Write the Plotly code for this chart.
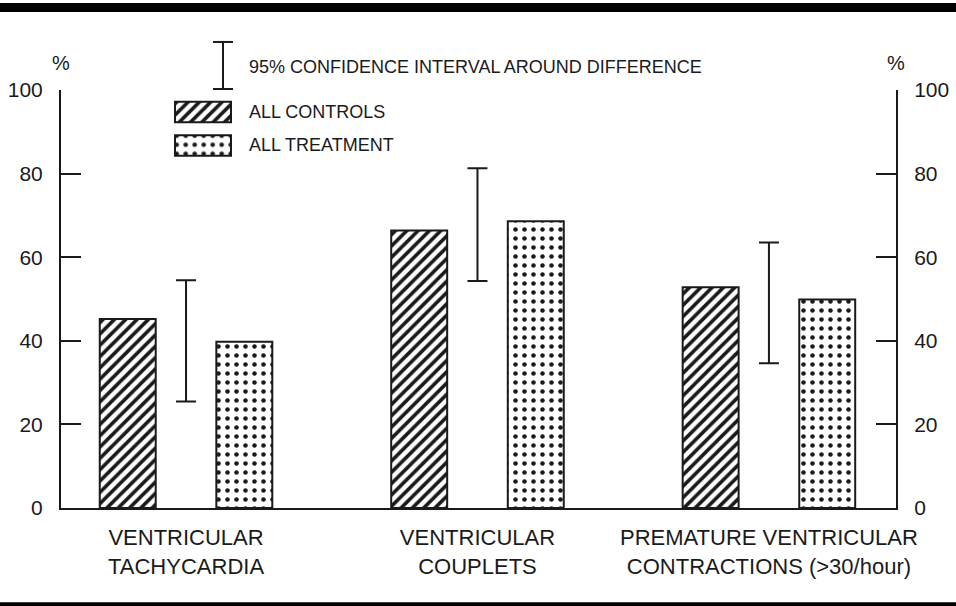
import plotly.graph_objects as go

categories = ["VENTRICULAR<br>TACHYCARDIA", "VENTRICULAR<br>COUPLETS",
              "PREMATURE VENTRICULAR<br>CONTRACTIONS (>30/hour)"]
group_pos = [0, 1, 2]
controls = [45.2, 66.4, 52.8]
treatment = [39.8, 68.6, 49.9]
ci_low = [25.5, 54.3, 34.6]
ci_high = [54.5, 81.3, 63.5]
y_ticks = [0, 20, 40, 60, 80, 100]

FONT = "Liberation Sans, Arial, Helvetica, sans-serif"
INK = "#1a1a1a"

W, H = 956, 606
L, R, T, B = 61, 60, 90, 98.3
pw, ph = W - L - R, H - T - B

def px_x(x):
    return (x - L) / pw

def px_y(y):
    return (H - B - y) / ph

ci_mid = [(a + b) / 2 for a, b in zip(ci_low, ci_high)]
ci_plus = [b - m for b, m in zip(ci_high, ci_mid)]
ci_minus = [m - a for a, m in zip(ci_low, ci_mid)]

hatch = dict(shape="/", size=8, solidity=0.45, fgcolor=INK, fgopacity=1,
             bgcolor="white", fillmode="overlay")
dots = dict(shape=".", size=9, solidity=0.2, fgcolor=INK, fgopacity=1,
            bgcolor="white", fillmode="overlay")

fig = go.Figure()
fig.add_trace(go.Bar(x=group_pos, y=controls, width=0.192, offset=-0.296,
                     marker=dict(color="white", pattern=hatch, line=dict(color=INK, width=2)),
                     showlegend=False))
fig.add_trace(go.Bar(x=group_pos, y=treatment, width=0.192, offset=0.104,
                     marker=dict(color="white", pattern=dots, line=dict(color=INK, width=2)),
                     showlegend=False))
fig.add_trace(go.Scatter(x=group_pos, y=ci_mid, mode="markers",
                         marker=dict(size=2, color="rgba(0,0,0,0)"),
                         error_y=dict(type="data", symmetric=False, array=ci_plus,
                                      arrayminus=ci_minus, width=10, thickness=2, color=INK),
                         showlegend=False))
# invisible trace on right axis
fig.add_trace(go.Scatter(x=[group_pos[0]], y=[0], yaxis="y2", mode="markers",
                         marker=dict(size=1, color="rgba(0,0,0,0)"), showlegend=False,
                         hoverinfo="skip"))

# legend swatches (horizontal bars on auxiliary axes)
fig.add_trace(go.Bar(x=[1], y=[1], base=0, orientation="h", width=0.61, xaxis="x3", yaxis="y3",
                     marker=dict(color="white", pattern=hatch, line=dict(color=INK, width=2)),
                     showlegend=False, hoverinfo="skip"))
fig.add_trace(go.Bar(x=[1], y=[0], base=0, orientation="h", width=0.61, xaxis="x3", yaxis="y3",
                     marker=dict(color="white", pattern=dots, line=dict(color=INK, width=2)),
                     showlegend=False, hoverinfo="skip"))

sw_x0, sw_x1 = 175 - 2.8, 233.8
sw_y_top, sw_y_bot = 95.25, 162.25

axis_font = dict(family=FONT, size=21, color=INK)

fig.update_layout(
    template="none",
    width=W, height=H,
    margin=dict(l=L, r=R, t=T, b=B, autoexpand=False),
    paper_bgcolor="white", plot_bgcolor="white",
    font=dict(family=FONT, color=INK),
    barmode="overlay",
    showlegend=False,
    xaxis=dict(range=[-0.429, 2.436], tickmode="array", tickvals=group_pos, ticktext=categories,
               showline=True, linecolor=INK, linewidth=2, ticks="", showgrid=False, zeroline=False,
               automargin=False,
               tickfont=dict(family=FONT, size=22, color=INK), ticklabelstandoff=9),
    yaxis=dict(range=[0, 100], tickmode="array", tickvals=y_ticks, showline=True, linecolor=INK,
               linewidth=2, ticks="inside", ticklen=20, tickwidth=2, tickcolor=INK,
               automargin=False,
               showgrid=False, zeroline=False, tickfont=axis_font, ticklabelstandoff=12),
    yaxis2=dict(range=[0, 100], overlaying="y", side="right", anchor="x", tickmode="array",
                tickvals=y_ticks, showline=True, linecolor=INK, linewidth=2, ticks="inside",
                ticklen=20, tickwidth=2, tickcolor=INK, showgrid=False, zeroline=False,
                automargin=False,
                tickfont=axis_font, ticklabelstandoff=12),
    xaxis3=dict(domain=[px_x(sw_x0), px_x(sw_x1)], range=[-0.05, 1.05], anchor="y3",
                visible=False, fixedrange=True),
    yaxis3=dict(domain=[px_y(sw_y_bot), px_y(sw_y_top)], range=[-0.5, 1.5], anchor="x3",
                visible=False, fixedrange=True),
)

ann_font = dict(family=FONT, size=18, color=INK)
fig.add_annotation(x=px_x(247), y=px_y(67), xref="paper", yref="paper", xanchor="left",
                   yanchor="middle", text="95% CONFIDENCE INTERVAL AROUND DIFFERENCE",
                   showarrow=False, font=ann_font)
fig.add_annotation(x=px_x(247), y=px_y(112), xref="paper", yref="paper", xanchor="left",
                   yanchor="middle", text="ALL CONTROLS", showarrow=False, font=ann_font)
fig.add_annotation(x=px_x(247), y=px_y(144.5), xref="paper", yref="paper", xanchor="left",
                   yanchor="middle", text="ALL TREATMENT", showarrow=False, font=ann_font)
pct_font = dict(family=FONT, size=20, color=INK)
fig.add_annotation(x=px_x(61), y=px_y(63), xref="paper", yref="paper", text="%",
                   xanchor="center", yanchor="middle", showarrow=False, font=pct_font)
fig.add_annotation(x=px_x(896.5), y=px_y(63), xref="paper", yref="paper", text="%",
                   xanchor="center", yanchor="middle", showarrow=False, font=pct_font)

# legend CI icon
line = dict(color=INK, width=2)
fig.add_shape(type="line", xref="paper", yref="paper", x0=px_x(223), x1=px_x(223),
              y0=px_y(42), y1=px_y(89), line=line)
fig.add_shape(type="line", xref="paper", yref="paper", x0=px_x(213), x1=px_x(233),
              y0=px_y(42), y1=px_y(42), line=line)
fig.add_shape(type="line", xref="paper", yref="paper", x0=px_x(213), x1=px_x(233),
              y0=px_y(89), y1=px_y(89), line=line)

# frame bands
fig.add_shape(type="rect", xref="paper", yref="paper", x0=px_x(0), x1=px_x(W),
              y0=px_y(3), y1=px_y(12), fillcolor="black", line=dict(width=0))
fig.add_shape(type="rect", xref="paper", yref="paper", x0=px_x(0), x1=px_x(W),
              y0=px_y(602), y1=px_y(606), fillcolor="black", line=dict(width=0))

fig.write_html("out.html", config={"displayModeBar": False},
               post_script="document.body.style.margin='0';document.body.style.padding='0';")
